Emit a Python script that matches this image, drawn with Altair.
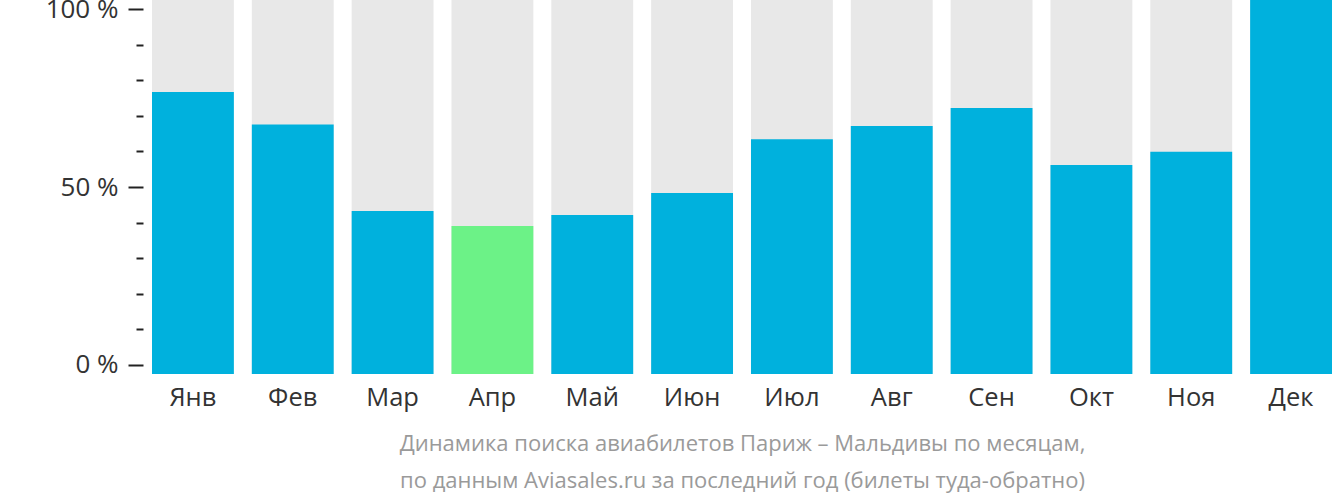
import altair as alt
import pandas as pd

months = ["Янв", "Фев", "Мар", "Апр", "Май", "Июн", "Июл", "Авг", "Сен", "Окт", "Ноя", "Дек"]
values = [75.4, 66.7, 43.6, 39.6, 42.5, 48.4, 62.8, 66.3, 71.1, 55.9, 59.4, 100]
highlight = ["no", "no", "no", "yes", "no", "no", "no", "no", "no", "no", "no", "no"]
tick_values = [0, 10, 20, 30, 40, 50, 60, 70, 80, 90, 100]
title_lines = [
    "Динамика поиска авиабилетов Париж – Мальдивы по месяцам,",
    "по данным Aviasales.ru за последний год (билеты туда-обратно)",
]

df = pd.DataFrame({"month": months, "value": values, "hl": highlight, "full": [100] * len(months)})
axis_df = pd.DataFrame({"t": tick_values})

FONT = "Open Sans"

x_enc = alt.X(
    "month:N",
    sort=months,
    scale=alt.Scale(paddingInner=0.18, paddingOuter=0),
    axis=alt.Axis(
        title=title_lines,
        labelFont=FONT,
        labelFontSize=25.5,
        labelColor="#333333",
        labelPadding=11,
        labelAngle=0,
        ticks=False,
        domain=False,
        titleFont=FONT,
        titleFontSize=22,
        titleFontWeight="normal",
        titleColor="#9a9a9a",
        titleLineHeight=37,
        titlePadding=23,
    ),
)

bar_scale = alt.Scale(domain=[0, 100], nice=False, zero=True)

bg = alt.Chart(df).mark_bar(color="#e8e8e8").encode(
    x=x_enc,
    y=alt.Y("full:Q", scale=bar_scale, axis=None),
)

fg = alt.Chart(df).mark_bar().encode(
    x=x_enc,
    y=alt.Y("value:Q", scale=bar_scale, axis=None),
    color=alt.Color(
        "hl:N",
        scale=alt.Scale(domain=["no", "yes"], range=["#00b1dd", "#6cf287"]),
        legend=None,
    ),
)

bars = alt.layer(bg, fg)

axis_layer = alt.Chart(axis_df).mark_rule(opacity=0).encode(
    x=alt.value(0),
    x2=alt.value(1),
    y=alt.Y(
        "t:Q",
        scale=alt.Scale(domain=[-2.53, 102.53], nice=False, zero=False),
        axis=alt.Axis(
            title=None,
            values=tick_values,
            labelExpr="datum.value % 50 === 0 ? datum.value + ' %' : ''",
            labelFont=FONT,
            labelFontSize=26,
            labelColor="#333333",
            labelPadding=10,
            tickSize={"condition": {"test": "datum.value % 50 === 0", "value": 15}, "value": 7},
            tickWidth=2,
            tickColor="#222222",
            domain=False,
            grid=False,
            offset=9,
        ),
    ),
)

chart = (
    alt.layer(bars, axis_layer)
    .resolve_scale(y="independent")
    .properties(
        width=1180,
        height=374,
        padding={"left": 152, "top": 0, "right": 0, "bottom": 128},
        autosize=alt.AutoSizeParams(type="none"),
        background="#ffffff",
    )
    .configure_view(stroke=None)
)

chart.save("out.html", embed_options={"renderer": "svg", "actions": False})
